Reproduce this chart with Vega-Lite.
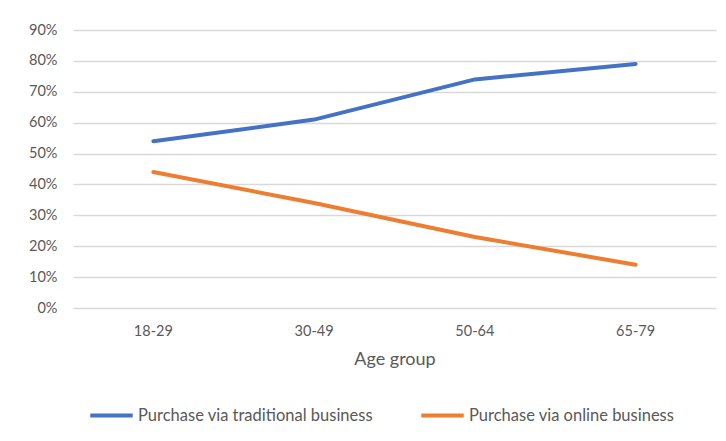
{
  "$schema": "https://vega.github.io/schema/vega-lite/v6.json",
  "autosize": "none",
  "width": 643,
  "height": 278,
  "padding": {"left": 73, "top": 30, "right": 10, "bottom": 133},
  "background": "white",
  "config": {
    "font": "Lato",
    "view": {"stroke": null},
    "axis": {"labelColor": "#595959", "titleColor": "#595959", "labelFont": "Lato", "titleFont": "Lato"}
  },
  "data": {
    "values": [
      {"age": "18-29", "series": "Purchase via traditional business", "value": 0.54},
      {"age": "30-49", "series": "Purchase via traditional business", "value": 0.61},
      {"age": "50-64", "series": "Purchase via traditional business", "value": 0.74},
      {"age": "65-79", "series": "Purchase via traditional business", "value": 0.79},
      {"age": "18-29", "series": "Purchase via online business", "value": 0.44},
      {"age": "30-49", "series": "Purchase via online business", "value": 0.34},
      {"age": "50-64", "series": "Purchase via online business", "value": 0.23},
      {"age": "65-79", "series": "Purchase via online business", "value": 0.14}
    ]
  },
  "mark": {"type": "line", "strokeWidth": 4, "strokeCap": "round"},
  "encoding": {
    "x": {
      "field": "age", "type": "ordinal", "title": "Age group",
      "scale": {"type": "band", "paddingInner": 0, "paddingOuter": 0},
      "axis": {"labelAngle": 0, "domain": false, "ticks": false, "grid": false, "labelFontSize": 14.5, "labelPadding": 16, "titleFontSize": 18, "titleFontWeight": "normal", "titlePadding": 13}
    },
    "y": {
      "field": "value", "type": "quantitative", "title": null,
      "scale": {"domain": [0, 0.9]},
      "axis": {"format": ".0%", "values": [0, 0.1, 0.2, 0.3, 0.4, 0.5, 0.6, 0.7, 0.8, 0.9], "domain": false, "ticks": false, "gridColor": "#d9d9d9", "gridWidth": 1.5, "labelFontSize": 14.5, "labelPadding": 16}
    },
    "color": {
      "field": "series", "type": "nominal", "title": null,
      "sort": ["Purchase via traditional business", "Purchase via online business"],
      "scale": {"domain": ["Purchase via traditional business", "Purchase via online business"], "range": ["#4472C4", "#ED7D31"]},
      "legend": {"orient": "none", "legendX": 15, "legendY": 362, "direction": "horizontal", "symbolType": "stroke", "symbolSize": 1800, "symbolStrokeWidth": 4, "labelFontSize": 16.5, "labelLimit": 0, "labelColor": "#595959", "labelOffset": 3, "columnPadding": 40}
    }
  }
}
